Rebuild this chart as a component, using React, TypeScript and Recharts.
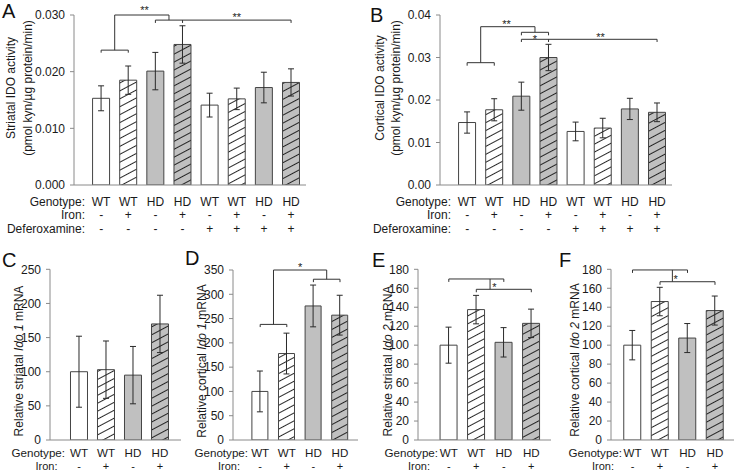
import React from 'react';
import { BarChart, Bar, XAxis, YAxis, ErrorBar, Cell, ReferenceLine, ReferenceDot } from 'recharts';

// ---------- categories / tick labels ----------
const genotype8 = ['WT', 'WT', 'HD', 'HD', 'WT', 'WT', 'HD', 'HD'];
const iron8 = ['-', '+', '-', '+', '-', '+', '-', '+'];
const deferoxamine8 = ['-', '-', '-', '-', '+', '+', '+', '+'];
const genotype4 = ['WT', 'WT', 'HD', 'HD'];
const iron4 = ['-', '+', '-', '+'];
const rowNames8 = ['Genotype:', 'Iron:', 'Deferoxamine:'];
const rowNames4 = ['Genotype:', 'Iron:'];

// ---------- series values (mean, SEM) ----------
const striatalIdoActivity = [0.0153, 0.0185, 0.0201, 0.0248, 0.0141, 0.0152, 0.0172, 0.0181];
const striatalIdoActivityErr = [0.0022, 0.0025, 0.0033, 0.0033, 0.0021, 0.0019, 0.0027, 0.0024];
const corticalIdoActivity = [0.0147, 0.0177, 0.0209, 0.0300, 0.0126, 0.0134, 0.0179, 0.0171];
const corticalIdoActivityErr = [0.0025, 0.0026, 0.0033, 0.0031, 0.0022, 0.0023, 0.0025, 0.0022];
const striatalIdo1 = [100, 103, 95, 170];
const striatalIdo1Err = [52, 42, 42, 42];
const corticalIdo1 = [100, 178, 276, 257];
const corticalIdo1Err = [42, 42, 43, 41];
const striatalIdo2 = [100, 137.5, 103, 123];
const striatalIdo2Err = [19, 15, 15.5, 15];
const corticalIdo2 = [100, 146, 107.5, 136.5];
const corticalIdo2Err = [15.5, 15, 15.3, 15.3];

// ---------- y ticks ----------
const ticksA = [0, 0.01, 0.02, 0.03];
const ticksB = [0, 0.01, 0.02, 0.03, 0.04];
const ticksC = [0, 50, 100, 150, 200, 250];
const ticksD = [0, 50, 100, 150, 200, 250, 300, 350];
const ticksEF = [0, 20, 40, 60, 80, 100, 120, 140, 160, 180];

// ---------- significance brackets (data coords: x1, y1, x2, y2) ----------
const bracketsA = [
  [1, 0.0238, 2, 0.0238], [1, 0.0238, 1, 0.02335], [2, 0.0238, 2, 0.02335],
  [1.5, 0.0238, 1.5, 0.03], [1.5, 0.03, 3.5, 0.03], [3.5, 0.03, 3.5, 0.0291],
  [3, 0.0291, 8, 0.0291], [3, 0.0291, 3, 0.0286], [4, 0.0291, 4, 0.0286], [8, 0.0291, 8, 0.0286],
];
const starsA: [number, number, string][] = [[2.6, 0.0313, '**'], [6, 0.03, '**']];
const bracketsB = [
  [1, 0.02878, 2, 0.02878], [1, 0.02878, 1, 0.02807], [2, 0.02878, 2, 0.02807],
  [1.5, 0.02878, 1.5, 0.03725], [1.5, 0.03725, 3.5, 0.03725], [3.5, 0.03725, 3.5, 0.03593],
  [3, 0.03593, 4, 0.03593], [3, 0.03593, 3, 0.03522], [4, 0.03593, 4, 0.03522],
  [3, 0.03428, 8, 0.03428], [3, 0.03428, 3, 0.03365], [4, 0.03428, 4, 0.03365], [8, 0.03428, 8, 0.03365],
];
const starsB: [number, number, string][] = [[2.45, 0.03835, '**'], [3.5, 0.03494, '*'], [5.92, 0.03541, '**']];
const bracketsD = [
  [1, 238, 2, 238], [1, 238, 1, 232.5], [2, 238, 2, 232.5],
  [1.5, 238, 1.5, 350], [1.5, 350, 3.5, 350], [3.5, 350, 3.5, 331],
  [3, 331, 4, 331], [3, 331, 3, 325], [4, 331, 4, 325],
];
const starsD: [number, number, string][] = [[2.5, 361, '*']];
const bracketsE = [
  [1, 169.8, 3, 169.8], [1, 169.8, 1, 166.7], [3, 169.8, 3, 166.7],
  [2.5, 169.8, 2.5, 158.9],
  [2, 158.9, 4, 158.9], [2, 158.9, 2, 155.8], [4, 158.9, 4, 155.8],
];
const starsE: [number, number, string][] = [[2.66, 163.6, '*']];
const bracketsF = [
  [1, 179.3, 3, 179.3], [1, 179.3, 1, 176.2], [3, 179.3, 3, 176.2],
  [2.45, 179.3, 2.45, 166.9],
  [2, 166.9, 4, 166.9], [2, 166.9, 2, 163.6], [4, 166.9, 4, 163.6],
];
const starsF: [number, number, string][] = [[2.57, 172.2, '*']];

const FONT = '"Liberation Sans", Arial, Helvetica, sans-serif';
const AXIS = '#8a8a8a';

function fillFor(g: string, fe: string) {
  if (g === 'WT') return fe === '+' ? 'url(#hatchWhite)' : '#ffffff';
  return fe === '+' ? 'url(#hatchGray)' : '#c0c0c0';
}

type PanelCfg = {
  left: number; top: number; width: number; height: number;
  yw: number; mt: number; mr: number; xh: number;
  xDomain: [number, number]; yDomain: [number, number]; yTicks: number[];
  fmt: (v: number) => string;
  means: number[]; errs: number[]; rows: string[][]; rowOffsets: number[]; rowFonts: number[];
  genotypes: string[]; irons: string[];
  brackets: number[][]; stars: [number, number, string][]; barSize: number;
};

function Panel({ c }: { c: PanelCfg }) {
  const data = c.means.map((v, i) => ({ x: i + 1, v, e: c.errs[i] }));
  const xt = c.means.map((_, i) => i + 1);
  const tick = (props: any) => {
    const { x, y, payload } = props;
    const idx = Math.round(payload.value) - 1;
    return (
      <g>
        {c.rows.map((row, r) => (
          <text key={r} x={x} y={y + c.rowOffsets[r]} textAnchor="middle" fontSize={c.rowFonts[r]} fill="#1a1a1a" fontFamily={FONT}>
            {row[idx]}
          </text>
        ))}
      </g>
    );
  };
  return (
    <div style={{ position: 'absolute', left: c.left, top: c.top }}>
      <BarChart width={c.width} height={c.height} data={data} margin={{ top: c.mt, right: c.mr, bottom: 0, left: 0 }}>
        <XAxis type="number" dataKey="x" domain={c.xDomain} ticks={xt} interval={0} allowDataOverflow
          tickLine={false} tickSize={0} tickMargin={0} height={c.xh} axisLine={{ stroke: AXIS, strokeWidth: 1 }} tick={tick} />
        <YAxis type="number" domain={c.yDomain} ticks={c.yTicks} interval={0} allowDataOverflow width={c.yw}
          tickSize={4} tickMargin={5} tickFormatter={c.fmt}
          tick={{ fontSize: 12, fill: '#1a1a1a', fontFamily: FONT }}
          axisLine={{ stroke: AXIS, strokeWidth: 1 }} tickLine={{ stroke: AXIS }} />
        <Bar dataKey="v" barSize={c.barSize} isAnimationActive={false} stroke="#444" strokeWidth={1}>
          {data.map((d, i) => <Cell key={i} fill={fillFor(c.genotypes[i], c.irons[i])} />)}
          <ErrorBar dataKey="e" width={3} stroke="#2a2a2a" strokeWidth={1} />
        </Bar>
        {c.brackets.map((s, i) => (
          <ReferenceLine key={'b' + i} segment={[{ x: s[0], y: s[1] }, { x: s[2], y: s[3] }]}
            stroke="#333" strokeWidth={1} ifOverflow="visible" />
        ))}
        {c.stars.map((s, i) => (
          <ReferenceDot key={'s' + i} x={s[0]} y={s[1]} r={0} ifOverflow="visible"
            shape={(p: any) => (
              <text x={p.cx} y={p.cy + 6} textAnchor="middle" fontSize={11} fill="#222" fontFamily={FONT}>{s[2]}</text>
            )} />
        ))}
      </BarChart>
    </div>
  );
}

const rows8 = [genotype8, iron8, deferoxamine8];
const rows4 = [genotype4, iron4];
const off8 = [20.5, 33.8, 47.6];
const font8 = [12, 12, 12];
const off4 = [17.4, 29.8];
const font4 = [11.6, 11];

const panels: PanelCfg[] = [
  {
    left: 0, top: 0, width: 366, height: 240, yw: 74, mt: 15, mr: 60, xh: 55,
    xDomain: [0, 8.55], yDomain: [0, 0.03], yTicks: ticksA, fmt: (v) => v.toFixed(3),
    means: striatalIdoActivity, errs: striatalIdoActivityErr, rows: rows8, rowOffsets: off8, rowFonts: font8,
    genotypes: genotype8, irons: iron8, brackets: bracketsA, stars: starsA, barSize: 17,
  },
  {
    left: 366, top: 0, width: 370, height: 240, yw: 74, mt: 15, mr: 64, xh: 55,
    xDomain: [0, 8.55], yDomain: [0, 0.04], yTicks: ticksB, fmt: (v) => v.toFixed(2),
    means: corticalIdoActivity, errs: corticalIdoActivityErr, rows: rows8, rowOffsets: off8, rowFonts: font8,
    genotypes: genotype8, irons: iron8, brackets: bracketsB, stars: starsB, barSize: 17,
  },
  {
    left: 0, top: 245, width: 185, height: 227, yw: 50, mt: 24.3, mr: 4, xh: 32,
    xDomain: [-0.074, 4.778], yDomain: [0, 250], yTicks: ticksC, fmt: (v) => String(v),
    means: striatalIdo1, errs: striatalIdo1Err, rows: rows4, rowOffsets: off4, rowFonts: font4,
    genotypes: genotype4, irons: iron4, brackets: [], stars: [], barSize: 17,
  },
  {
    left: 185, top: 245, width: 185, height: 227, yw: 48, mt: 25, mr: 12, xh: 32,
    xDomain: [-0.0226, 4.677], yDomain: [0, 350], yTicks: ticksD, fmt: (v) => String(v),
    means: corticalIdo1, errs: corticalIdo1Err, rows: rows4, rowOffsets: off4, rowFonts: font4,
    genotypes: genotype4, irons: iron4, brackets: bracketsD, stars: starsD, barSize: 16,
  },
  {
    left: 370, top: 245, width: 185, height: 227, yw: 48, mt: 24.3, mr: 4, xh: 32,
    xDomain: [-0.12, 4.716], yDomain: [0, 180], yTicks: ticksEF, fmt: (v) => String(v),
    means: striatalIdo2, errs: striatalIdo2Err, rows: rows4, rowOffsets: off4, rowFonts: font4,
    genotypes: genotype4, irons: iron4, brackets: bracketsE, stars: starsE, barSize: 17,
  },
  {
    left: 555, top: 245, width: 181, height: 227, yw: 56, mt: 24.3, mr: 2, xh: 32,
    xDomain: [0.218, 4.691], yDomain: [0, 180], yTicks: ticksEF, fmt: (v) => String(v),
    means: corticalIdo2, errs: corticalIdo2Err, rows: rows4, rowOffsets: off4, rowFonts: font4,
    genotypes: genotype4, irons: iron4, brackets: bracketsF, stars: starsF, barSize: 17,
  },
];

function RotLabel({ x, y, children }: { x: number; y: number; children: React.ReactNode }) {
  return (
    <text transform={`translate(${x},${y}) rotate(-90)`} x={0} y={4.3} textAnchor="middle"
      fontSize={12} fill="#1a1a1a" fontFamily={FONT}>{children}</text>
  );
}

function RowLabels({ names, x, ys, fonts }: { names: string[]; x: number[]; ys: number[]; fonts: number[] }) {
  return (
    <g>
      {names.map((n, i) => (
        <text key={i} x={x[i]} y={ys[i]} textAnchor="end" fontSize={fonts[i]} fill="#1a1a1a" fontFamily={FONT}>{n}</text>
      ))}
    </g>
  );
}

export default function App() {
  const letter = { fontSize: 20, fill: '#111', fontFamily: FONT } as any;
  const ys8 = [205.5, 218.8, 232.6];
  const ys4 = [457.4, 469.8];
  return (
    <div style={{ position: 'absolute', left: 0, top: 0, width: 736, height: 472, background: '#fff', overflow: 'hidden', fontFamily: FONT }}>
      <svg width={0} height={0} style={{ position: 'absolute' }}>
        <defs>
          <pattern id="hatchWhite" patternUnits="userSpaceOnUse" width={10} height={7} patternTransform="rotate(-28)">
            <rect width={10} height={7} fill="#ffffff" />
            <line x1={-1} y1={3.5} x2={11} y2={3.5} stroke="#111" strokeWidth={0.9} />
          </pattern>
          <pattern id="hatchGray" patternUnits="userSpaceOnUse" width={10} height={7} patternTransform="rotate(-28)">
            <rect width={10} height={7} fill="#c0c0c0" />
            <line x1={-1} y1={3.5} x2={11} y2={3.5} stroke="#111" strokeWidth={0.9} />
          </pattern>
        </defs>
      </svg>
      {panels.map((p, i) => <Panel key={i} c={p} />)}
      <svg width={736} height={472} style={{ position: 'absolute', left: 0, top: 0, pointerEvents: 'none' }}>
        <text x={2} y={18.3} {...letter}>A</text>
        <text x={370} y={22} {...letter}>B</text>
        <text x={2} y={267} {...letter}>C</text>
        <text x={185} y={265} {...letter}>D</text>
        <text x={372} y={267} {...letter}>E</text>
        <text x={559} y={267} {...letter}>F</text>

        <RotLabel x={11} y={88}>Striatal IDO activity</RotLabel>
        <RotLabel x={27.5} y={88}>(pmol kyn/µg protein/min)</RotLabel>
        <RotLabel x={380} y={88}>Cortical IDO activity</RotLabel>
        <RotLabel x={396} y={88}>(pmol kyn/µg protein/min)</RotLabel>
        <RotLabel x={18.5} y={361}>Relative striatal <tspan fontStyle="italic">Ido 1</tspan> mRNA</RotLabel>
        <RotLabel x={201.5} y={361}>Relative cortical <tspan fontStyle="italic">Ido 1</tspan> mRNA</RotLabel>
        <RotLabel x={387.5} y={361}>Relative striatal <tspan fontStyle="italic">Ido 2</tspan> mRNA</RotLabel>
        <RotLabel x={574.5} y={360}>Relative cortical <tspan fontStyle="italic">Ido 2</tspan> mRNA</RotLabel>

        <RowLabels names={rowNames8} x={[85, 85, 85]} ys={ys8} fonts={font8} />
        <RowLabels names={rowNames8} x={[451, 451, 451]} ys={ys8} fonts={font8} />
        <RowLabels names={rowNames4} x={[65, 57.5]} ys={ys4} fonts={font4} />
        <RowLabels names={rowNames4} x={[248, 240]} ys={ys4} fonts={font4} />
        <RowLabels names={rowNames4} x={[438, 430]} ys={ys4} fonts={font4} />
        <RowLabels names={rowNames4} x={[622, 614]} ys={ys4} fonts={font4} />
      </svg>
    </div>
  );
}
